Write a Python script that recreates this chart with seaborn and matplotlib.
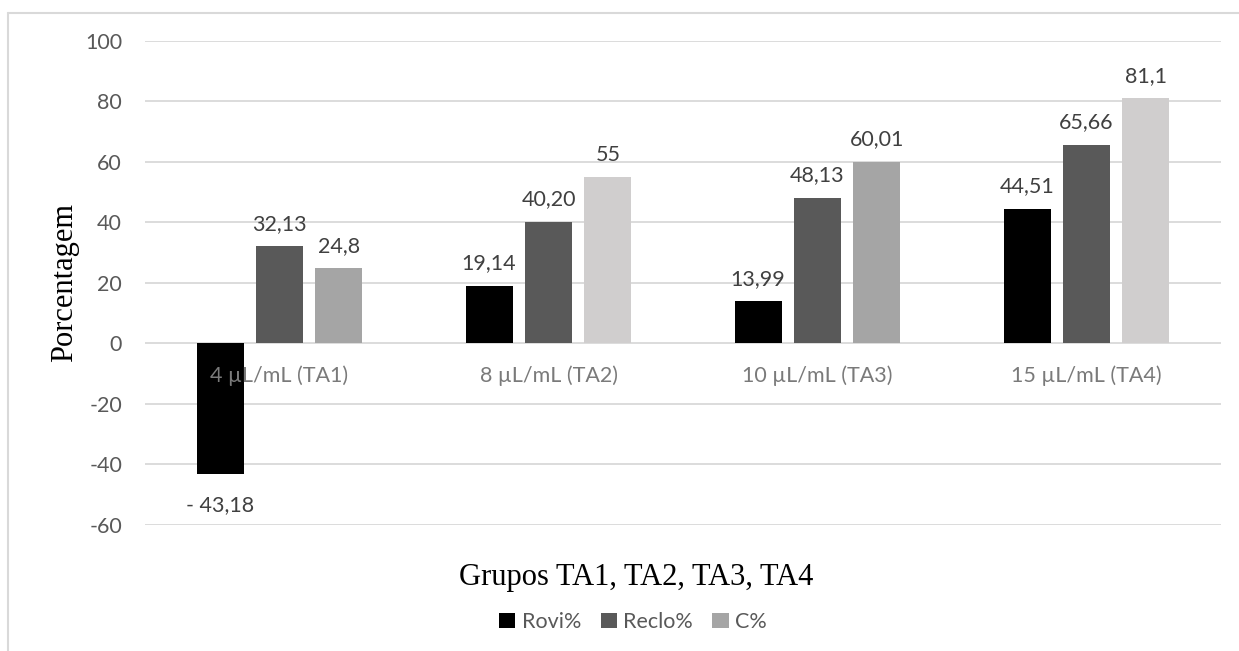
import matplotlib
matplotlib.use("Agg")
import matplotlib.pyplot as plt
from matplotlib.lines import Line2D
from matplotlib.patches import Patch
import seaborn as sns
import pandas as pd

# ---- data ----
groups = ["4 µL/mL (TA1)", "8 µL/mL (TA2)", "10 µL/mL (TA3)", "15 µL/mL (TA4)"]
series = ["Rovi%", "Reclo%", "C%"]
rovi_labels = ["- 43,18", "19,14", "13,99", "44,51"]
reclo_labels = ["32,13", "40,20", "48,13", "65,66"]
c_labels = ["24,8", "55", "60,01", "81,1"]
y_ticks = [-60, -40, -20, 0, 20, 40, 60, 80, 100]


def to_num(s):
    return float(s.replace(" ", "").replace(",", "."))


label_sets = [rovi_labels, reclo_labels, c_labels]
rows = []
for name, labs in zip(series, label_sets):
    for g, s in zip(groups, labs):
        rows.append({"Grupo": g, "Série": name, "Valor": to_num(s)})
df = pd.DataFrame(rows)

# ---- styling ----
series_colors = ["#000000", "#595959", "#a5a5a5"]
c_group_colors = ["#a5a5a5", "#d0cece", "#a5a5a5", "#d0cece"]
text_dark = "#404040"
tick_gray = "#595959"
cat_gray = "#7a7a7a"
grid_gray = "#d9d9d9"
fs = 15.5

sns.set_theme(style="white")
plt.rcParams["font.family"] = ["Lato", "DejaVu Sans"]

W, H = 1239, 651
fig = plt.figure(figsize=(W / 100, H / 100), dpi=100)
ax = fig.add_axes([145 / W, 1 - 525 / H, (1221 - 145) / W, (525 - 41) / H])

sns.barplot(
    data=df, x="Grupo", y="Valor", hue="Série", order=groups, hue_order=series,
    palette=series_colors, width=0.663, gap=0.21, saturation=1.0,
    legend=False, ax=ax, linewidth=0,
)

# per-group shading of the C% bars
for patch, col in zip(ax.containers[2], c_group_colors):
    patch.set_facecolor(col)

# value labels (negative values get a little more room below the bar)
for cont, labs in zip(ax.containers, label_sets):
    for patch, lab in zip(cont, labs):
        v = to_num(lab)
        x = patch.get_x() + patch.get_width() / 2
        off = 9 if v >= 0 else -15
        ax.annotate(lab, xy=(x, v), xytext=(0, off), textcoords="offset points",
                    ha="center", va="bottom" if v >= 0 else "top",
                    fontsize=fs, color=text_dark)

ax.set_ylim(-60, 100)
ax.set_xlim(-0.5, len(groups) - 0.5)
ax.set_yticks(y_ticks)
ax.set_yticklabels([str(v) for v in y_ticks], fontsize=fs, color=tick_gray)
ax.tick_params(axis="y", length=0, pad=16.5)
ax.set_xticks([])
ax.set_xlabel("")
ax.set_ylabel("")
ax.yaxis.grid(True, color=grid_gray, linewidth=1.3)
ax.set_axisbelow(True)
for sp in ax.spines.values():
    sp.set_visible(False)

# category names sit just under the zero line
for i, g in enumerate(groups):
    ax.annotate(g, xy=(i, 0), xytext=(0, -16), textcoords="offset points",
                ha="center", va="top", fontsize=fs, color=cat_gray)

# axis titles
fig.text(65 / W, 1 - 283 / H, "Porcentagem", rotation=90, ha="center", va="center",
         fontsize=22, family="Liberation Serif", color="black")
fig.text(636 / W, 1 - 578 / H, "Grupos TA1, TA2, TA3, TA4", ha="center", va="center",
         fontsize=22, family="Liberation Serif", color="black")

# legend
handles = [Patch(facecolor=c, edgecolor="none") for c in series_colors]
fig.legend(handles, series, loc="center", bbox_to_anchor=(633 / W, 1 - 622 / H),
           ncol=3, frameon=False, fontsize=fs, labelcolor=tick_gray,
           handlelength=0.75, handleheight=0.75, handletextpad=0.3, columnspacing=0.9)

# outer chart border (top and left)
fig.add_artist(Line2D([7.5 / W, 1.0], [1 - 12.5 / H] * 2, transform=fig.transFigure,
                      color=grid_gray, linewidth=1.5))
fig.add_artist(Line2D([7.5 / W] * 2, [0.0, 1 - 12.5 / H], transform=fig.transFigure,
                      color=grid_gray, linewidth=1.5))

fig.savefig("out.png", dpi=100, facecolor="white")
